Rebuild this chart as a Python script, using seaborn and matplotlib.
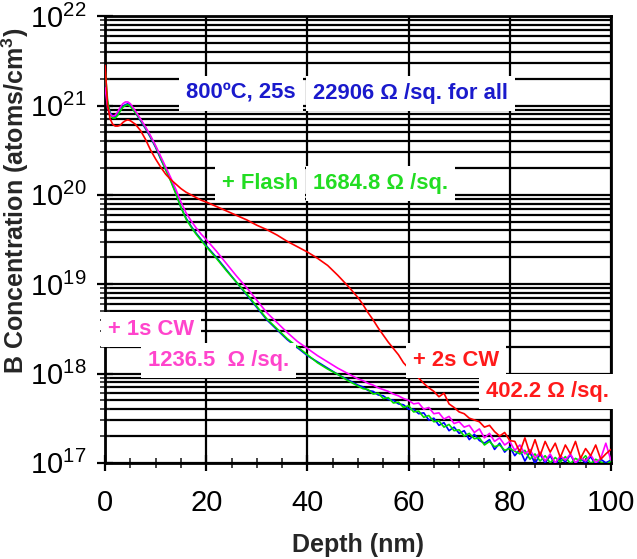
import numpy as np
import pandas as pd
import matplotlib
matplotlib.use("Agg")
import matplotlib.pyplot as plt
import matplotlib.ticker as mticker
import seaborn as sns

# --- Data (log10 of B concentration) ---
DEPTH = ([0, 0.5, 1, 1.5, 2, 2.5, 3, 3.5, 4, 4.5, 5]
         + list(range(6, 21))
         + list(range(22, 51, 2))
         + list(range(51, 101)))

LOG_BASE = [21.28, 21.02, 20.92, 20.88, 20.87, 20.90, 20.95, 20.99, 21.01, 21.02, 21.00,
            20.92, 20.83, 20.74, 20.64, 20.53, 20.40, 20.28, 20.16, 20.02, 19.86, 19.74, 19.65, 19.57, 19.50, 19.43,
            19.30, 19.16, 19.02, 18.88, 18.74, 18.60, 18.49, 18.38, 18.29, 18.20, 18.13, 18.06, 17.99, 17.93, 17.87,
            17.85, 17.81, 17.80, 17.76, 17.75, 17.71, 17.70, 17.66, 17.65, 17.60,
            17.60, 17.55, 17.56, 17.48, 17.50, 17.42, 17.45, 17.36, 17.40, 17.33,
            17.36, 17.26, 17.32, 17.25, 17.22, 17.26, 17.15, 17.22, 17.12, 17.18,
            17.08, 17.15, 17.02, 17.12, 16.99, 17.10, 17.00, 17.08, 16.98, 17.06,
            17.01, 17.09, 16.99, 17.05, 17.00, 17.07, 16.98, 17.04, 17.00, 17.03]

LOG_FLASH = [21.40, 21.05, 20.90, 20.86, 20.86, 20.89, 20.94, 20.98, 21.00, 21.01, 20.99,
             20.92, 20.84, 20.75, 20.65, 20.54, 20.41, 20.28, 20.15, 20.01, 19.86, 19.73, 19.64, 19.56, 19.49, 19.42,
             19.29, 19.15, 19.02, 18.89, 18.75, 18.61, 18.50, 18.39, 18.30, 18.21, 18.12, 18.05, 17.99, 17.92, 17.86,
             17.83, 17.82, 17.77, 17.78, 17.72, 17.73, 17.67, 17.68, 17.62, 17.64,
             17.57, 17.58, 17.51, 17.53, 17.46, 17.47, 17.40, 17.43, 17.36, 17.37,
             17.30, 17.33, 17.27, 17.28, 17.20, 17.24, 17.18, 17.20, 17.14, 17.16,
             17.13, 17.10, 17.14, 17.04, 17.10, 17.02, 17.08, 17.00, 17.06, 17.01,
             17.07, 16.99, 17.05, 17.02, 17.08, 16.99, 17.04, 17.01, 16.98, 17.02]

LOG_CW1 = [21.20, 20.98, 20.90, 20.88, 20.89, 20.93, 20.98, 21.02, 21.04, 21.04, 21.02,
           20.94, 20.85, 20.76, 20.66, 20.55, 20.43, 20.31, 20.19, 20.06, 19.92, 19.80, 19.71, 19.63, 19.56, 19.50,
           19.37, 19.23, 19.09, 18.96, 18.82, 18.68, 18.57, 18.46, 18.36, 18.28, 18.20, 18.13, 18.06, 18.00, 17.94,
           17.92, 17.89, 17.87, 17.84, 17.82, 17.80, 17.77, 17.75, 17.72, 17.70,
           17.66, 17.67, 17.60, 17.62, 17.55, 17.56, 17.49, 17.52, 17.44, 17.46,
           17.40, 17.42, 17.34, 17.38, 17.28, 17.33, 17.24, 17.28, 17.20, 17.24,
           17.14, 17.20, 17.10, 17.15, 17.05, 17.12, 17.02, 17.10, 17.00, 17.08,
           17.03, 17.10, 17.00, 17.06, 17.02, 17.09, 17.00, 17.05, 17.22, 17.03]

LOG_CW2 = [21.45, 21.00, 20.85, 20.79, 20.77, 20.77, 20.78, 20.81, 20.83, 20.84, 20.83,
           20.79, 20.72, 20.62, 20.50, 20.40, 20.31, 20.23, 20.17, 20.12, 20.07, 20.03, 20.00, 19.97, 19.94, 19.92,
           19.87, 19.82, 19.77, 19.72, 19.66, 19.61, 19.55, 19.48, 19.42, 19.36, 19.29, 19.21, 19.10, 18.98, 18.85,
           18.77, 18.68, 18.60, 18.51, 18.43, 18.35, 18.28, 18.21, 18.12, 18.06,
           18.00, 17.95, 17.89, 17.84, 17.80, 17.74, 17.78, 17.66, 17.62, 17.57,
           17.55, 17.50, 17.48, 17.46, 17.40, 17.42, 17.35, 17.30, 17.34, 17.25,
           17.24, 17.12, 17.28, 17.10, 17.26, 17.08, 17.24, 17.12, 17.22, 17.06,
           17.20, 17.10, 17.24, 17.05, 17.16, 17.08, 17.20, 17.04, 17.10, 17.15]

SERIES = ["800C 25s", "+ Flash", "+ 1s CW", "+ 2s CW"]
LINE_COLORS = ["#0000ff", "#00dd00", "#ff00ff", "#ff0000"]

# (text, x, y in axes fraction, colour)
LABELS = [
    ("800\u00baC, 25s", 0.160, 0.828, "#1a1acc"),
    ("22906 \u03a9 /sq. for all", 0.411, 0.828, "#1a1acc"),
    ("+ Flash", 0.231, 0.626, "#22dd22"),
    ("1684.8 \u03a9 /sq.", 0.411, 0.626, "#22dd22"),
    ("+ 1s CW", 0.006, 0.298, "#ff44cc"),
    ("1236.5  \u03a9 /sq.", 0.085, 0.230, "#ff44cc"),
    ("+ 2s CW", 0.609, 0.230, "#ff1a1a"),
    ("402.2 \u03a9 /sq.", 0.753, 0.159, "#ff1a1a"),
]

frames = []
for name, vals in zip(SERIES, [LOG_BASE, LOG_FLASH, LOG_CW1, LOG_CW2]):
    frames.append(pd.DataFrame({"Depth": DEPTH, "Conc": 10.0 ** np.array(vals), "Sample": name}))
df = pd.concat(frames, ignore_index=True)

sns.set_style("ticks")
plt.rcParams["font.family"] = ["Liberation Sans", "DejaVu Sans"]

fig = plt.figure(figsize=(6.37, 5.59), dpi=100)
ax = fig.add_axes([0.165, 0.172, 0.794, 0.799])

sns.lineplot(data=df, x="Depth", y="Conc", hue="Sample", palette=LINE_COLORS,
             estimator=None, sort=False, lw=1.2, legend=False, ax=ax, zorder=3)

ax.set_yscale("log")
ax.set_xlim(0, 100)
ax.set_ylim(1e17, 1e22)

ax.xaxis.set_major_locator(mticker.MultipleLocator(20))
ax.xaxis.set_minor_locator(mticker.MultipleLocator(5))
ax.yaxis.set_major_locator(mticker.LogLocator(base=10, numticks=10))
ax.yaxis.set_minor_locator(mticker.LogLocator(base=10, subs=np.arange(2, 10), numticks=50))
ax.yaxis.set_major_formatter(mticker.FuncFormatter(lambda v, p: r"$\mathregular{10^{%d}}$" % round(np.log10(v))))
ax.yaxis.set_minor_formatter(mticker.NullFormatter())

ax.grid(which="both", axis="y", color="black", lw=1.6)
ax.grid(which="major", axis="x", color="black", lw=1.6)
ax.set_axisbelow(True)

for s in ax.spines.values():
    s.set_linewidth(2)
    s.set_color("black")

ax.tick_params(which="major", direction="inout", length=11, width=1.6, labelsize=21, colors="black")
ax.tick_params(axis="x", which="major", pad=13)
ax.tick_params(axis="y", which="major", pad=8)
ax.tick_params(which="minor", direction="inout", length=7, width=1.2)

ax.set_xlabel("Depth (nm)", fontsize=18, fontweight="bold", labelpad=12)
ax.set_ylabel(r"B Concentration (atoms/cm$\mathregular{^3}$)", fontsize=18, fontweight="bold")
ax.yaxis.set_label_coords(-0.146, 0.587)

for txt, x, y, c in LABELS:
    ax.text(x, y, txt, transform=ax.transAxes, color=c, fontsize=15.8, fontweight="bold",
            ha="left", va="center", zorder=6, clip_on=False,
            bbox=dict(facecolor="white", edgecolor="none", pad=5))

fig.savefig("out.png", dpi=100)
